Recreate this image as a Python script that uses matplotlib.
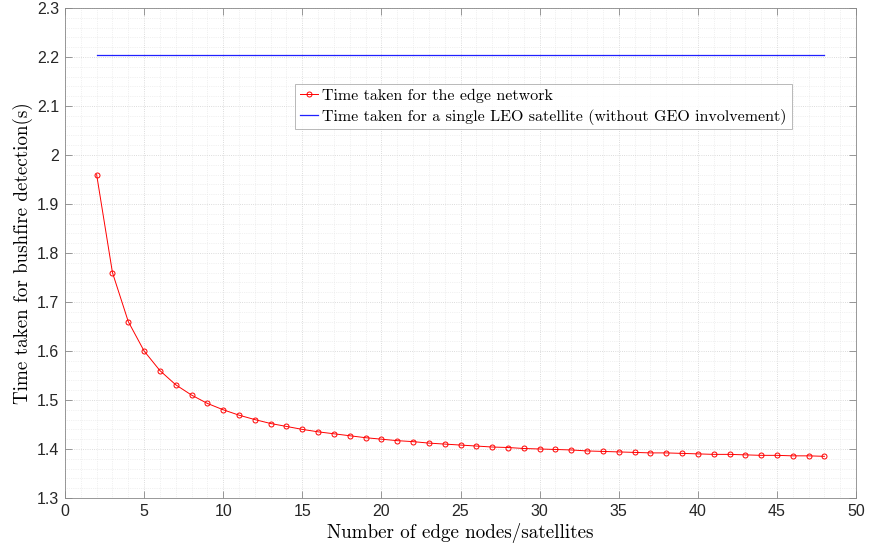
import numpy as np
import matplotlib
matplotlib.use('Agg')
import matplotlib.pyplot as plt
import matplotlib.ticker as mticker

# Detection time vs. number of edge nodes
n_nodes = list(range(2, 49))
edge_time = [1.960, 1.760, 1.660, 1.600, 1.560, 1.531, 1.510, 1.493, 1.480,
             1.469, 1.460, 1.452, 1.446, 1.440, 1.435, 1.431, 1.427, 1.423,
             1.420, 1.417, 1.415, 1.412, 1.410, 1.408, 1.406, 1.404, 1.403,
             1.401, 1.400, 1.399, 1.398, 1.396, 1.395, 1.394, 1.393, 1.392,
             1.392, 1.391, 1.390, 1.389, 1.389, 1.388, 1.387, 1.387, 1.386,
             1.386, 1.385]
leo_x = [2, 48]
leo_time = [2.205, 2.205]

label_edge = 'Time taken for the edge network'
label_leo = 'Time taken for a single LEO satellite (without GEO involvement)'
xlabel = 'Number of edge nodes/satellites'
ylabel = 'Time taken for bushfire detection(s)'

serif = {'family': 'cmr10'}
tick_font = 'Liberation Sans'

fig = plt.figure(figsize=(8.7, 5.53), dpi=100)
ax = fig.add_axes([0.0747, 0.0995, 0.9093, 0.886])

ax.plot(n_nodes, edge_time, color='#ff0000', lw=0.7, marker='o', ms=3.6,
        mfc='none', mew=0.7, label=label_edge)
ax.plot(leo_x, leo_time, color='#2020ff', lw=0.9, label=label_leo)

ax.set_xlim(0, 50)
ax.set_ylim(1.3, 2.3)
ax.xaxis.set_major_locator(mticker.MultipleLocator(5))
ax.xaxis.set_minor_locator(mticker.MultipleLocator(1))
ax.yaxis.set_major_locator(mticker.MultipleLocator(0.1))
ax.yaxis.set_minor_locator(mticker.MultipleLocator(0.02))
ax.yaxis.set_major_formatter(mticker.FuncFormatter(lambda v, p: f'{v:g}'))

ax.grid(which='major', color='#d0d0d0', lw=0.6, ls=':')
ax.grid(which='minor', color='#e4e4e4', lw=0.5, ls=':')
ax.set_axisbelow(True)

ax.tick_params(which='major', direction='in', length=5, width=0.6,
               top=True, right=True, color='#888888', labelcolor='#262626',
               labelsize=11.5, pad=4)
ax.tick_params(which='minor', length=0, top=True, right=True)
for lab in ax.get_xticklabels() + ax.get_yticklabels():
    lab.set_fontfamily(tick_font)
for sp in ax.spines.values():
    sp.set_color('#888888')
    sp.set_linewidth(0.6)

ax.set_xlabel(xlabel, fontsize=13.7, labelpad=3, fontdict=serif)
ax.set_ylabel(ylabel, fontsize=13.7, labelpad=3, fontdict=serif)

leg = ax.legend(loc='upper left', bbox_to_anchor=(0.291, 0.845),
                prop={'family': 'cmr10', 'size': 11.5}, frameon=True,
                fancybox=False, borderpad=0.3, handlelength=1.1,
                handletextpad=0.3, labelspacing=0.35, borderaxespad=0)
leg.get_frame().set_edgecolor('#999999')
leg.get_frame().set_linewidth(0.6)

fig.savefig('out.png', dpi=100)
